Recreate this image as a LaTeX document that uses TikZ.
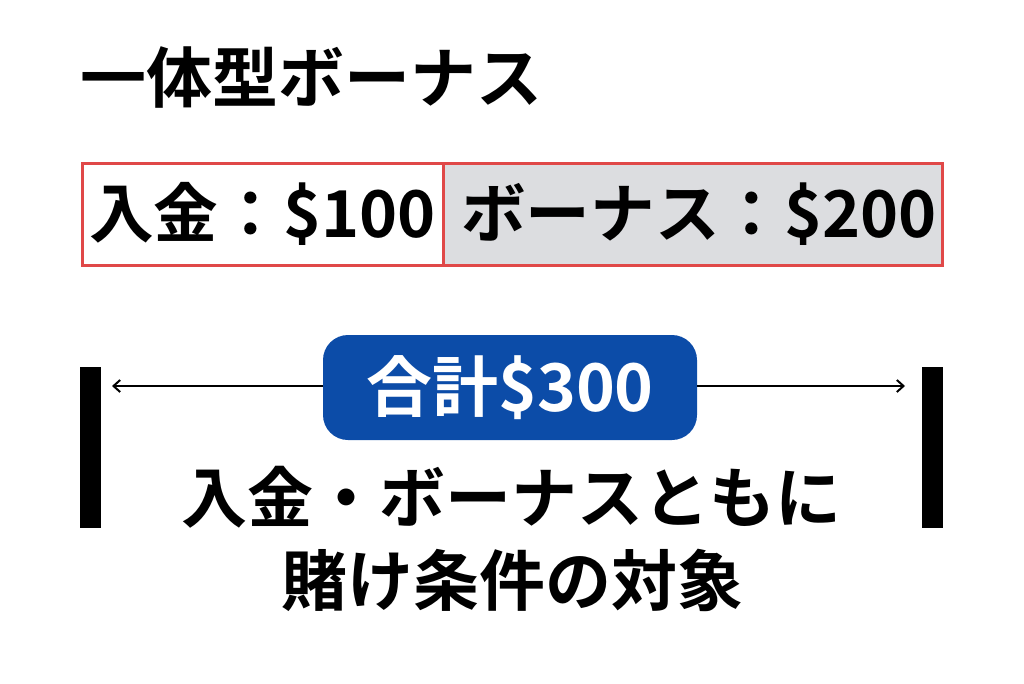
\documentclass[tikz,border=0pt]{standalone}
\usepackage{fontspec}
\newfontfamily\jp{Noto Sans CJK JP}[BoldFont={* Bold}]
\usepackage{tikz}
\usetikzlibrary{positioning,arrows.meta}

\definecolor{boxred}{RGB}{224,72,72}
\definecolor{bonusgray}{RGB}{220,221,224}
\definecolor{totalblue}{RGB}{12,76,168}

\begin{document}
\begin{tikzpicture}[x=0.75pt, y=-0.75pt,
    every node/.style={inner sep=0pt, font=\jp\bfseries\fontsize{49.5}{60}\selectfont},
    amount/.style={draw=boxred, line width=2.25pt, minimum height=76.5pt,
        font=\jp\bfseries\fontsize{48.5}{60}\selectfont},
    endbar/.style={fill=black, minimum width=15.75pt, minimum height=120.75pt},
    total/.style={fill=totalblue, text=white, rounded corners=18.75pt,
        minimum width=280.5pt, minimum height=78.75pt},
    span/.style={line width=1.5pt, -{Straight Barb[length=5pt,width=9pt,line width=1.5pt]}},
    align=center]
    \useasboundingbox (0,0) rectangle (1024,683);
    \node (title) at (311,77) {一体型ボーナス};

    \node[amount, fill=white, minimum width=270.75pt] (deposit) at (262.5,214) {入金：\$100};
    \node[amount, fill=bonusgray, minimum width=374.25pt] (bonus) at (692.5,214) {\kern10pt ボーナス：\$200};

    \node[endbar] (lbar) at (90.5,447.5) {};
    \node[endbar] (rbar) at (932.5,447.5) {};
    \coordinate (lend) at (112,386);
    \coordinate (rend) at (905,386);
    \node[total] (sum) at (510,387.5) {合計\$300};
    \draw[span] (sum.west |- lend) -- (lend);
    \draw[span] (sum.east |- rend) -- (rend);

    \node (note) at (511,497) {入金・ボーナスともに};
    \node (target) at (512,580) {賭け条件の対象};
\end{tikzpicture}
\end{document}
